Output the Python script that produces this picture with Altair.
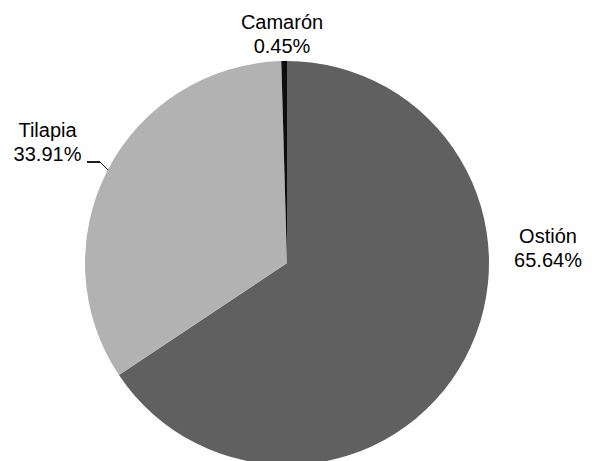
import altair as alt
import pandas as pd

species = ["Ostión", "Tilapia", "Camarón"]
shares = [65.64, 33.91, 0.45]
share_labels = ["65.64%", "33.91%", "0.45%"]
colors = ["#606060", "#b2b2b2", "#0d0d0d"]
order = [0, 1, 2]

df = pd.DataFrame({"especie": species, "pct": shares, "etiqueta": share_labels, "orden": order})

CX, CY, R = 279, 255, 202

pie = alt.Chart(df).mark_arc(radius=R).encode(
    theta=alt.Theta("pct:Q", stack=True),
    color=alt.Color("especie:N", scale=alt.Scale(domain=species, range=colors), legend=None),
    order=alt.Order("orden:Q"),
    x=alt.value(CX),
    y=alt.value(CY),
)

label_pos = {"Ostión": (540, 235), "Tilapia": (39.5, 128.5), "Camarón": (274, 21)}

layers = [pie]
for name in species:
    lx, ly = label_pos[name]
    layers.append(
        alt.Chart(df)
        .transform_filter(alt.datum.especie == name)
        .transform_calculate(txt="datum.especie + '\\n' + datum.etiqueta")
        .mark_text(font="Liberation Sans", fontSize=20, color="#000000", align="center",
                   baseline="alphabetic", lineBreak="\n", lineHeight=24)
        .encode(text="txt:N", x=alt.value(lx), y=alt.value(ly))
    )

leader1 = alt.Chart(df).mark_rule(color="#000000", strokeWidth=1).encode(
    x=alt.value(79), x2=alt.value(92), y=alt.value(154), y2=alt.value(154))
leader2 = alt.Chart(df).mark_rule(color="#000000", strokeWidth=1).encode(
    x=alt.value(92), x2=alt.value(100), y=alt.value(154), y2=alt.value(162))
layers += [leader1, leader2]

chart = alt.layer(*layers).properties(
    width=576, height=453, padding=0, autosize=alt.AutoSizeParams(type="none")
).configure_view(stroke=None)

chart.save("out.html", embed_options={"renderer": "svg", "actions": False})
